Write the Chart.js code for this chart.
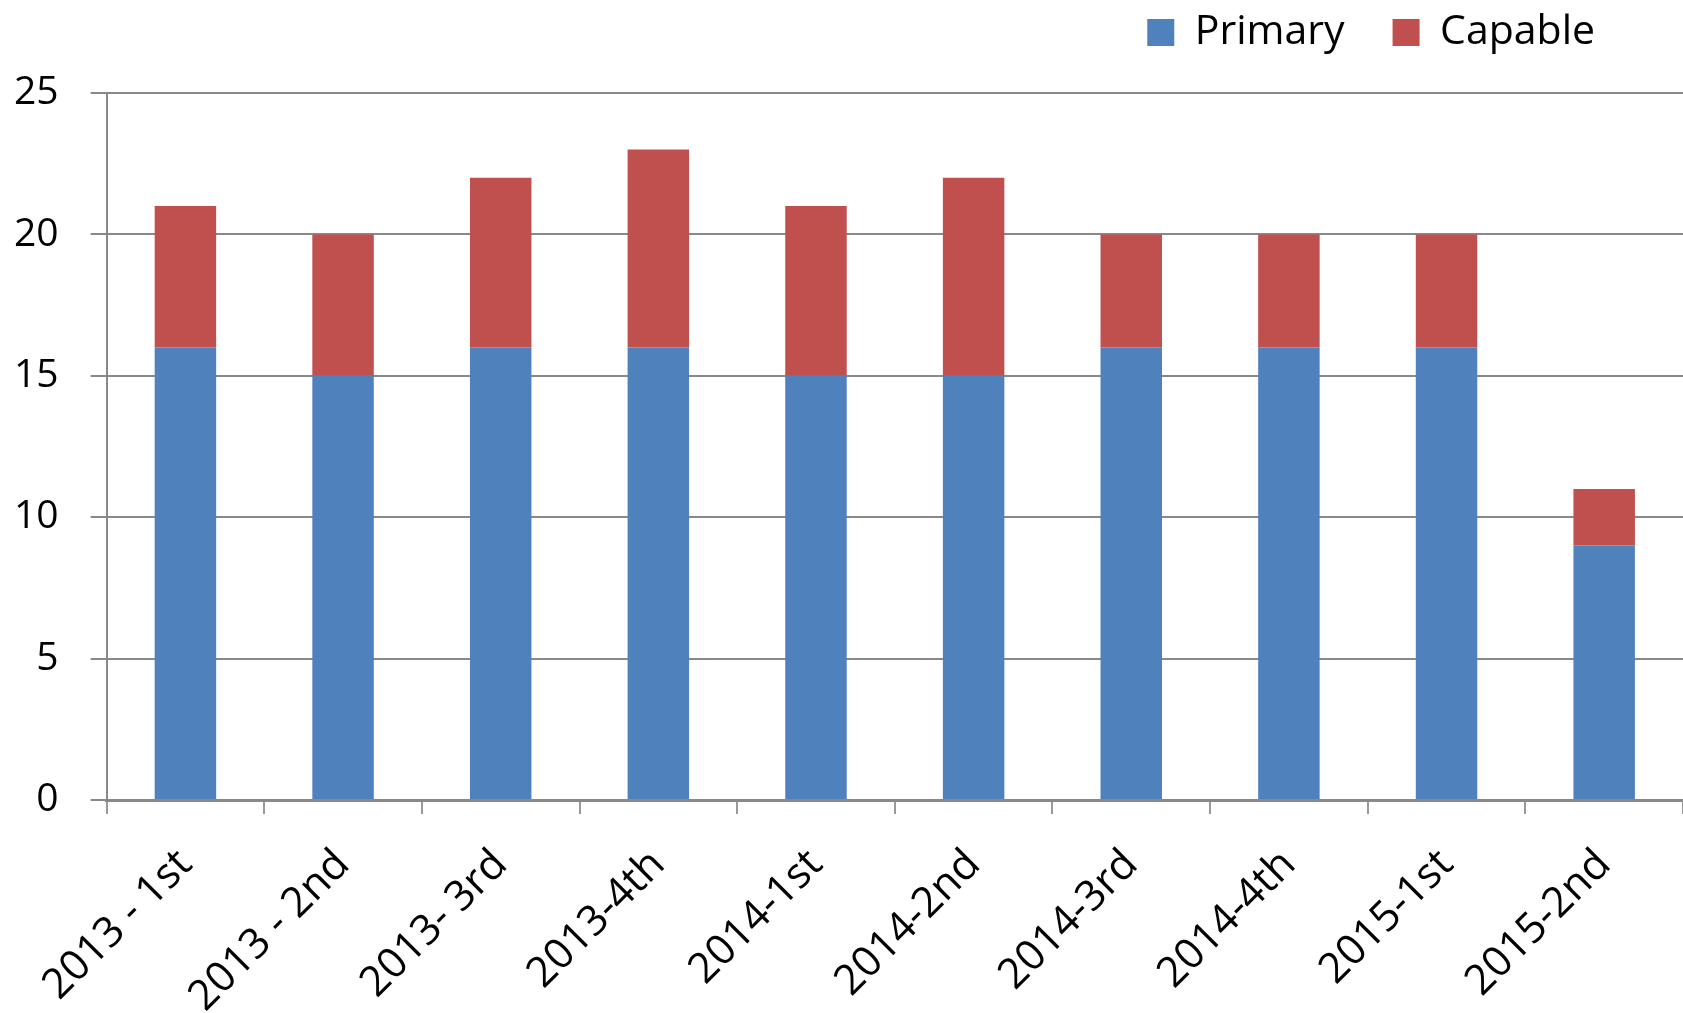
<!DOCTYPE html>
<html>
<head>
<meta charset="utf-8">
<script src="https://cdn.jsdelivr.net/npm/chart.js@4.4.1/dist/chart.umd.min.js"></script>
<style>
  html, body { margin: 0; padding: 0; background: #fff; }
  #wrap { width: 1683px; height: 1013px; position: relative; }
</style>
</head>
<body>
<div id="wrap"><canvas id="chart"></canvas></div>
<script>
const categories = ["2013 - 1st", "2013 - 2nd", "2013- 3rd", "2013-4th", "2014-1st",
  "2014-2nd", "2014-3rd", "2014-4th", "2015-1st", "2015-2nd"];
const primaryValues = [16, 15, 16, 16, 15, 15, 16, 16, 16, 9];
const capableValues = [5, 5, 6, 7, 6, 7, 4, 4, 4, 2];
const yTicks = [0, 5, 10, 15, 20, 25];

const FONT = "'Open Sans', 'Liberation Sans', sans-serif";
const GRID = "#898989";

// legend sits in the top-right corner, a bit in from the edge and above the plot
const legendShift = {
  id: "legendShift",
  afterLayout(chart) {
    const lg = chart.legend;
    if (!lg) return;
    lg.right -= 40;
    lg.top -= 30;
    lg.bottom -= 30;
  }
};

new Chart(document.getElementById("chart"), {
  type: "bar",
  data: {
    labels: categories,
    datasets: [
      {
        label: "Primary",
        data: primaryValues,
        backgroundColor: "#4F81BD",
        barPercentage: 0.39,
        categoryPercentage: 1.0,
      },
      {
        label: "Capable",
        data: capableValues,
        backgroundColor: "#C0504D",
        barPercentage: 0.39,
        categoryPercentage: 1.0,
      },
    ],
  },
  options: {
    responsive: true,
    maintainAspectRatio: false,
    animation: false,
    layout: { padding: { left: -18, right: 0, top: -6, bottom: 0 } },
    plugins: {
      legend: {
        display: true,
        position: "top",
        align: "end",
        labels: {
          color: "#000",
          font: { family: FONT, size: 41 },
          boxWidth: 27,
          boxHeight: 27,
          padding: 48,
        },
      },
      tooltip: { enabled: false },
    },
    scales: {
      x: {
        stacked: true,
        afterFit(scale) {
          // let the first rotated label hang left like the original,
          // and keep the axis line where the original has it
          scale.paddingLeft = 0;
          scale.height = 213;
        },
        grid: {
          display: true,
          drawOnChartArea: false,
          drawTicks: true,
          tickLength: 14,
          color: "#9a9a9a",
          lineWidth: 2,
        },
        border: { display: true, color: GRID, width: 3 },
        ticks: {
          color: "#000",
          font: { family: FONT, size: 42 },
          minRotation: 45,
          maxRotation: 45,
          padding: 26,
        },
      },
      y: {
        stacked: true,
        min: 0,
        max: 25,
        afterBuildTicks(axis) {
          axis.ticks = yTicks.map(v => ({ value: v }));
        },
        grid: {
          color: GRID,
          lineWidth: 2,
          tickLength: 16,
        },
        border: { display: true, color: GRID, width: 2 },
        ticks: {
          color: "#000",
          font: { family: FONT, size: 39 },
          padding: 32,
        },
      },
    },
  },
  plugins: [legendShift],
});
</script>
</body>
</html>
